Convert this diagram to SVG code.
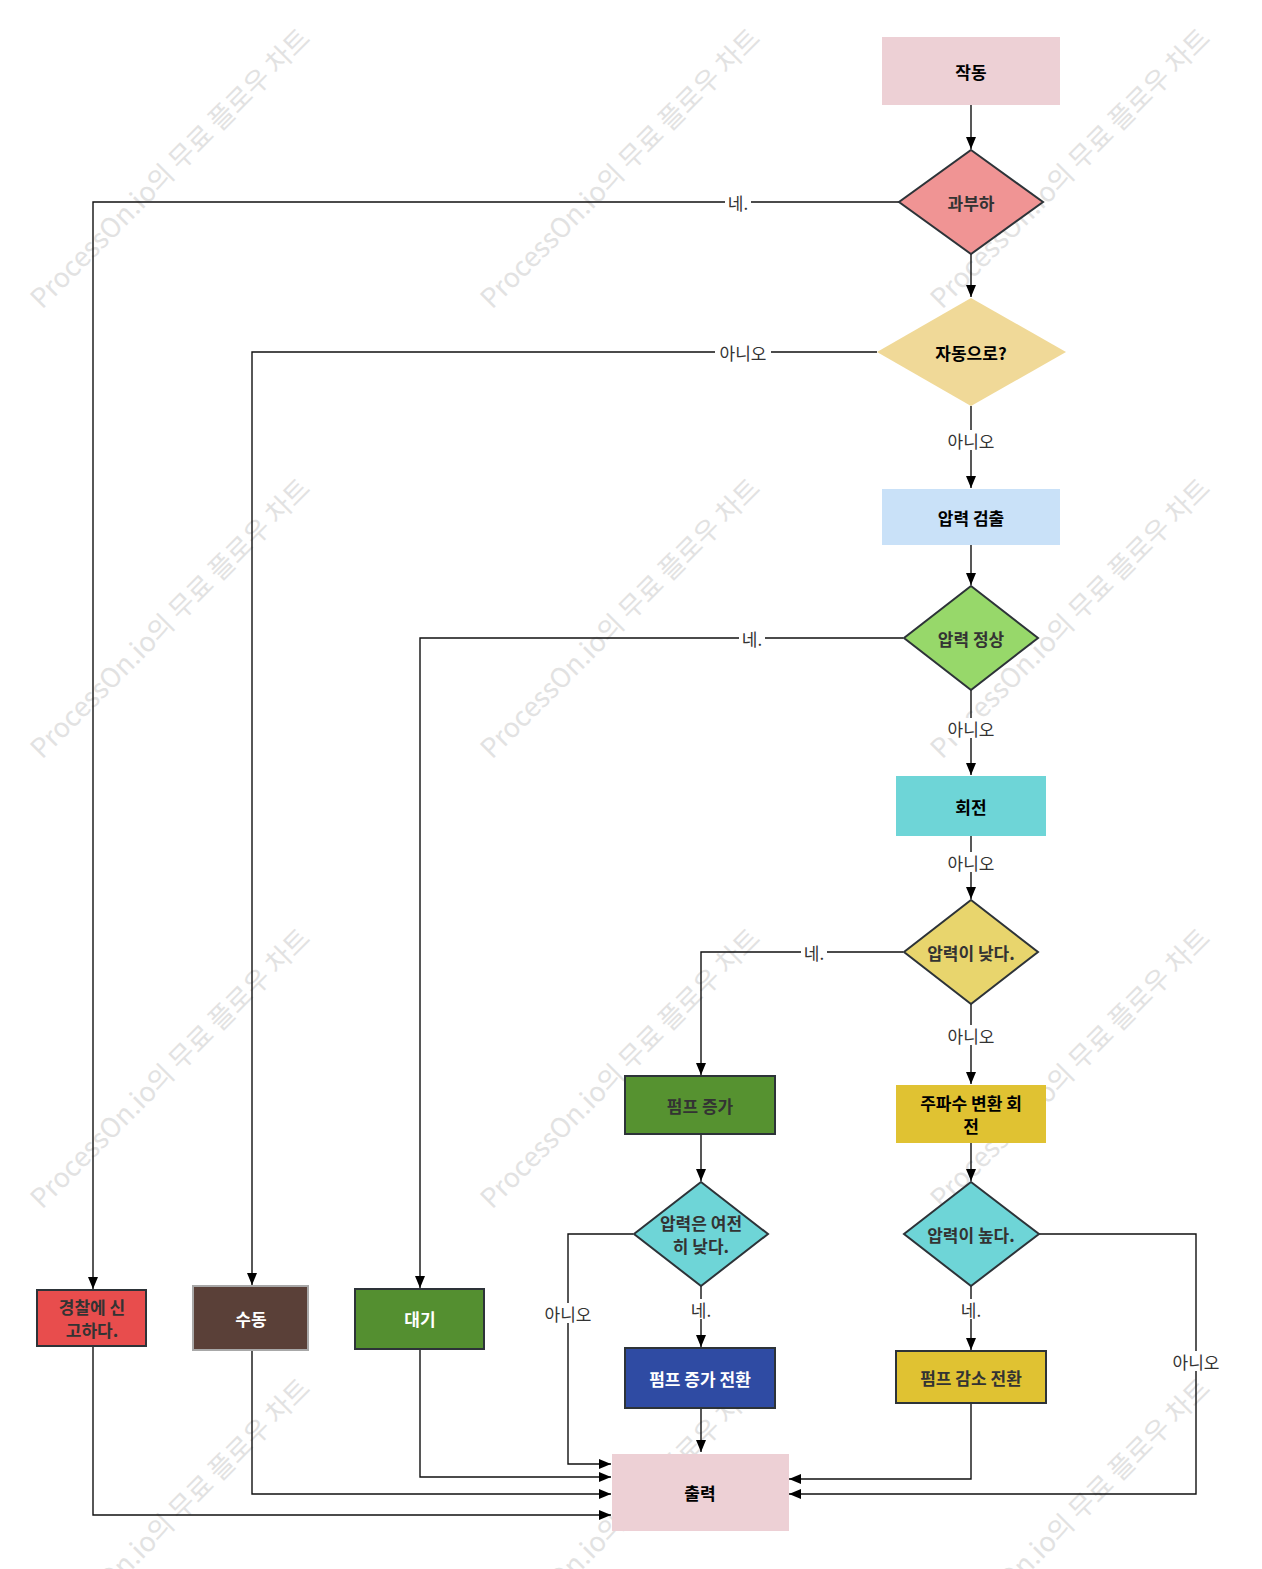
<svg xmlns="http://www.w3.org/2000/svg" width="1262" height="1569" viewBox="0 0 1262 1569">
<defs>
<marker id="ah" viewBox="0 0 12 10" refX="12" refY="5" markerWidth="12" markerHeight="10" markerUnits="userSpaceOnUse" orient="auto">
<path d="M0,0 L12,5 L0,10 Z" fill="#000"/>
</marker>
<style>
.wm{font-family:"Noto Sans CJK KR","Noto Sans",sans-serif;font-size:27px;fill:#e2e2e2}
.c{fill:none;stroke:#111;stroke-width:1.4;marker-end:url(#ah)}
.lb{font-family:"Noto Sans CJK KR","Noto Sans",sans-serif;font-size:17px;fill:#333;text-anchor:middle;dominant-baseline:central}
.lbg{fill:#fff}
.t{font-family:"Noto Sans CJK KR","Noto Sans",sans-serif;font-size:17px;font-weight:bold;text-anchor:middle;dominant-baseline:central}
.k{fill:#000}
.g{fill:#333}
.w{fill:#fff}
.s{stroke:#2d3338;stroke-width:2}
</style>
</defs>
<rect width="1262" height="1569" fill="#fff"/>
<g id="watermark">
<text class="wm" transform="translate(42,310) rotate(-45)">ProcessOn.io의 무료 플로우 차트</text>
<text class="wm" transform="translate(492,310) rotate(-45)">ProcessOn.io의 무료 플로우 차트</text>
<text class="wm" transform="translate(942,310) rotate(-45)">ProcessOn.io의 무료 플로우 차트</text>
<text class="wm" transform="translate(42,760) rotate(-45)">ProcessOn.io의 무료 플로우 차트</text>
<text class="wm" transform="translate(492,760) rotate(-45)">ProcessOn.io의 무료 플로우 차트</text>
<text class="wm" transform="translate(942,760) rotate(-45)">ProcessOn.io의 무료 플로우 차트</text>
<text class="wm" transform="translate(42,1210) rotate(-45)">ProcessOn.io의 무료 플로우 차트</text>
<text class="wm" transform="translate(492,1210) rotate(-45)">ProcessOn.io의 무료 플로우 차트</text>
<text class="wm" transform="translate(942,1210) rotate(-45)">ProcessOn.io의 무료 플로우 차트</text>
<text class="wm" transform="translate(42,1660) rotate(-45)">ProcessOn.io의 무료 플로우 차트</text>
<text class="wm" transform="translate(492,1660) rotate(-45)">ProcessOn.io의 무료 플로우 차트</text>
<text class="wm" transform="translate(942,1660) rotate(-45)">ProcessOn.io의 무료 플로우 차트</text>
</g>
<g id="connectors">
<path class="c" d="M971,105 V149"/>
<path class="c" d="M899,202 H93 V1289"/>
<path class="c" d="M971,254 V297"/>
<path class="c" d="M877,352 H252 V1285"/>
<path class="c" d="M971,406 V488"/>
<path class="c" d="M971,545 V585"/>
<path class="c" d="M903,638 H420 V1288"/>
<path class="c" d="M971,690 V775"/>
<path class="c" d="M971,836 V899"/>
<path class="c" d="M903,952 H701 V1075"/>
<path class="c" d="M971,1004 V1084"/>
<path class="c" d="M701,1134 V1181"/>
<path class="c" d="M971,1143 V1181"/>
<path class="c" d="M633,1234 H568 V1464 H611"/>
<path class="c" d="M701,1286 V1347"/>
<path class="c" d="M701,1408 V1452"/>
<path class="c" d="M971,1286 V1350"/>
<path class="c" d="M1039,1234 H1196 V1494 H789"/>
<path class="c" d="M971,1403 V1479 H789"/>
<path class="c" d="M420,1349 V1477 H611"/>
<path class="c" d="M252,1350 V1494 H611"/>
<path class="c" d="M93,1346 V1515 H611"/>
<rect class="lbg" x="725" y="192" width="26" height="20"/><text class="lb" x="738" y="202">네.</text>
<rect class="lbg" x="715" y="342" width="56" height="20"/><text class="lb" x="743" y="352">아니오</text>
<rect class="lbg" x="943" y="430" width="56" height="20"/><text class="lb" x="971" y="440">아니오</text>
<rect class="lbg" x="739" y="628" width="26" height="20"/><text class="lb" x="752" y="638">네.</text>
<rect class="lbg" x="943" y="718" width="56" height="20"/><text class="lb" x="971" y="728">아니오</text>
<rect class="lbg" x="943" y="852" width="56" height="20"/><text class="lb" x="971" y="862">아니오</text>
<rect class="lbg" x="801" y="942" width="26" height="20"/><text class="lb" x="814" y="952">네.</text>
<rect class="lbg" x="943" y="1025" width="56" height="20"/><text class="lb" x="971" y="1035">아니오</text>
<rect class="lbg" x="540" y="1303" width="56" height="20"/><text class="lb" x="568" y="1313">아니오</text>
<rect class="lbg" x="688" y="1299" width="26" height="20"/><text class="lb" x="701" y="1309">네.</text>
<rect class="lbg" x="958" y="1299" width="26" height="20"/><text class="lb" x="971" y="1309">네.</text>
<rect class="lbg" x="1168" y="1351" width="56" height="20"/><text class="lb" x="1196" y="1361">아니오</text>
</g>
<g id="n-start"><rect x="882" y="37" width="178" height="68" fill="#edd0d5"/><text class="t k" x="971" y="71">작동</text></g>
<g id="n-overload"><path class="s" d="M971,150 L1043,202 L971,254 L899,202 Z" fill="#f09494"/><text class="t g" x="971" y="202">과부하</text></g>
<g id="n-auto"><path d="M971,298 L1066,352 L971,406 L877,352 Z" fill="#f0d998"/><text class="t k" x="971" y="352">자동으로?</text></g>
<g id="n-detect"><rect x="882" y="489" width="178" height="56" fill="#c9e1f8"/><text class="t k" x="971" y="517">압력 검출</text></g>
<g id="n-normal"><path class="s" d="M971,586 L1038,638 L971,690 L904,638 Z" fill="#97d86a"/><text class="t g" x="971" y="638">압력 정상</text></g>
<g id="n-rotate"><rect x="896" y="776" width="150" height="60" fill="#6ed5d7"/><text class="t k" x="971" y="806">회전</text></g>
<g id="n-low"><path class="s" d="M971,900 L1038,952 L971,1004 L904,952 Z" fill="#e8d56d"/><text class="t g" x="971" y="952">압력이 낮다.</text></g>
<g id="n-pumpup"><rect class="s" x="625" y="1076" width="150" height="58" fill="#569230"/><text class="t g" x="700" y="1105">펌프 증가</text></g>
<g id="n-freq"><rect x="896" y="1085" width="150" height="58" fill="#e0c232"/><text class="t k" x="971" y="1102">주파수 변환 회</text><text class="t k" x="971" y="1125">전</text></g>
<g id="n-stilllow"><path class="s" d="M701,1182 L768,1234 L701,1286 L634,1234 Z" fill="#6ed5d7"/><text class="t g" x="701" y="1222">압력은 여전</text><text class="t g" x="701" y="1245">히 낮다.</text></g>
<g id="n-high"><path class="s" d="M971,1182 L1039,1234 L971,1286 L904,1234 Z" fill="#6ed5d7"/><text class="t g" x="971" y="1234">압력이 높다.</text></g>
<g id="n-pumpupsw"><rect class="s" x="625" y="1348" width="150" height="60" fill="#2f4ba3"/><text class="t w" x="700" y="1378">펌프 증가 전환</text></g>
<g id="n-pumpdown"><rect class="s" x="896" y="1351" width="150" height="52" fill="#e0c232"/><text class="t g" x="971" y="1377">펌프 감소 전환</text></g>
<g id="n-output"><rect x="612" y="1454" width="177" height="77" fill="#edd0d5"/><text class="t k" x="700" y="1492">출력</text></g>
<g id="n-police"><rect class="s" x="37" y="1290" width="109" height="56" fill="#e84d4d"/><text class="t g" x="92" y="1306">경찰에 신</text><text class="t g" x="92" y="1329">고하다.</text></g>
<g id="n-manual"><rect x="193" y="1286" width="115" height="64" fill="#5a4038" stroke="#a8a8a8" stroke-width="2"/><text class="t w" x="251" y="1318">수동</text></g>
<g id="n-wait"><rect class="s" x="355" y="1289" width="129" height="60" fill="#548f30"/><text class="t w" x="420" y="1318" font-weight="normal">대기</text></g>
</svg>
